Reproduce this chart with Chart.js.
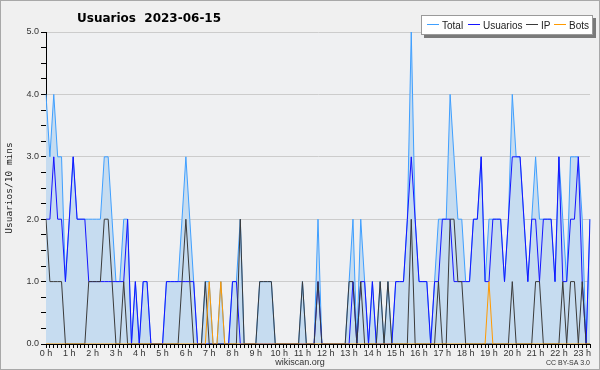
<!DOCTYPE html>
<html><head><meta charset="utf-8">
<script src="https://cdn.jsdelivr.net/npm/chart.js@4/dist/chart.umd.min.js"></script>
<style>html,body{margin:0;padding:0;background:#f0f0f0}</style>
</head><body>
<canvas id="c" width="600" height="370"></canvas>
<script>
// hour tick labels (one every 6 slots of 10 minutes)
const hourLabels = ['0 h','1 h','2 h','3 h','4 h','5 h','6 h','7 h','8 h','9 h','10 h','11 h',
  '12 h','13 h','14 h','15 h','16 h','17 h','18 h','19 h','20 h','21 h','22 h','23 h'];
const yTickLabels = ['0.0','1.0','2.0','3.0','4.0','5.0'];
const seriesNames = ['Total','Usuarios','IP','Bots'];

const total = [
 4,3,4,3,3,1,2,3,2,2,
 2,2,2,2,2,3,3,2,1,1,
 2,2,0,1,0,1,1,0,0,0,
 0,1,1,1,1,2,3,2,1,0,
 0,1,1,0,0,1,0,0,1,1,
 2,0,0,0,0,1,1,1,1,0,
 0,0,0,0,0,0,1,0,0,0,
 2,0,0,0,0,0,0,0,1,2,
 0,2,1,0,1,0,1,0,1,0,
 1,1,1,2,5,2,1,1,1,0,
 1,2,2,2,4,3,2,2,1,1,
 2,2,3,1,2,2,2,2,1,2,
 4,3,3,2,1,2,3,2,2,2,
 2,1,3,2,1,3,3,3,2,0,
 2];
const usuarios = [
 2,2,3,2,2,1,2,3,2,2,
 2,1,1,1,1,1,1,1,1,1,
 1,2,0,1,0,1,1,0,0,0,
 0,1,1,1,1,1,1,1,1,0,
 0,0,0,0,0,0,0,0,1,1,
 0,0,0,0,0,0,0,0,0,0,
 0,0,0,0,0,0,0,0,0,0,
 1,0,0,0,0,0,0,0,0,1,
 0,1,1,0,1,0,0,0,0,0,
 1,1,1,2,3,2,1,1,1,0,
 1,1,2,2,2,1,1,1,1,1,
 2,2,3,1,1,2,2,2,1,2,
 3,3,3,2,1,2,2,1,2,2,
 2,1,3,1,1,2,2,3,1,0,
 2];
const ip = [
 2,1,1,1,1,0,0,0,0,0,
 0,1,1,1,1,2,2,1,0,0,
 1,0,0,0,0,0,0,0,0,0,
 0,0,0,0,0,1,2,1,0,0,
 0,1,0,0,0,0,0,0,0,0,
 2,0,0,0,0,1,1,1,1,0,
 0,0,0,0,0,0,1,0,0,0,
 1,0,0,0,0,0,0,0,1,1,
 0,1,0,0,0,0,1,0,1,0,
 0,0,0,0,2,0,0,0,0,0,
 0,1,0,0,2,2,1,1,0,0,
 0,0,0,0,0,0,0,0,0,0,
 1,0,0,0,0,0,1,1,0,0,
 0,0,0,1,0,1,1,0,1,0,
 0];
const bots = [
 0,0,0,0,0,0,0,0,0,0,
 0,0,0,0,0,0,0,0,0,0,
 0,0,0,0,0,0,0,0,0,0,
 0,0,0,0,0,0,0,0,0,0,
 0,0,1,0,0,1,0,0,0,0,
 0,0,0,0,0,0,0,0,0,0,
 0,0,0,0,0,0,0,0,0,0,
 0,0,0,0,0,0,0,0,0,0,
 0,0,0,0,0,0,0,0,0,0,
 0,0,0,0,0,0,0,0,0,0,
 0,0,0,0,0,0,0,0,0,0,
 0,0,0,0,1,0,0,0,0,0,
 0,0,0,0,0,0,0,0,0,0,
 0,0,0,0,0,0,0,0,0,0,
 0];

// 10-minute slot category labels
const slots = [];
for (let k = 0; k < total.length; k++) {
  const h = Math.floor(k / 6), m = (k % 6) * 10;
  slots.push(h + ':' + (m < 10 ? '0' : '') + m);
}

const colors = ['#3f9fff','#1414ff','#3a3a3a','#ff9a00'];

const deco = {
  id: 'deco',
  beforeDraw(chart) {
    const {ctx, chartArea: a} = chart;
    ctx.save();
    ctx.fillStyle = '#f0f0f0';
    ctx.fillRect(0, 0, chart.width, chart.height);
    ctx.fillStyle = '#eff0f2';
    ctx.fillRect(a.left, a.top, a.right - a.left, a.bottom - a.top);
    ctx.restore();
  },
  afterDraw(chart) {
    const ctx = chart.ctx;
    ctx.save();
    ctx.strokeStyle = '#a8a8a8';
    ctx.lineWidth = 1;
    ctx.strokeRect(0.5, 0.5, chart.width - 1, chart.height - 1);
    // title
    ctx.fillStyle = '#000';
    ctx.font = 'bold 12px "DejaVu Sans"';
    ctx.textAlign = 'left';
    ctx.textBaseline = 'alphabetic';
    ctx.fillText('Usuarios  2023-06-15', 77, 22);
    // legend box
    ctx.fillStyle = '#7a7a7a';
    ctx.fillRect(424, 18, 172, 20);
    ctx.fillStyle = '#ffffff';
    ctx.fillRect(421, 15, 172, 20);
    ctx.strokeStyle = '#9a9a9a';
    ctx.strokeRect(421.5, 15.5, 171, 19);
    const xs = [427, 468, 526, 554];
    ctx.font = '10px "Liberation Sans"';
    chart.data.datasets.forEach((ds, k) => {
      ctx.strokeStyle = ds.borderColor;
      ctx.lineWidth = 1;
      ctx.beginPath();
      ctx.moveTo(xs[k], 24.5);
      ctx.lineTo(xs[k] + 12, 24.5);
      ctx.stroke();
      ctx.fillStyle = '#222';
      ctx.fillText(ds.label, xs[k] + 15, 28.5);
    });
    // footer
    ctx.fillStyle = '#333';
    ctx.font = '9px "Liberation Sans"';
    ctx.textAlign = 'center';
    ctx.fillText('wikiscan.org', 300, 365);
    ctx.font = '7px "Liberation Sans"';
    ctx.textAlign = 'right';
    ctx.fillText('CC BY-SA 3.0', 590, 365);
    ctx.restore();
  }
};

const mk = (k, data, extra) => Object.assign({
  label: seriesNames[k], data: data, borderColor: colors[k], borderWidth: 1,
  pointRadius: 0, tension: 0, fill: false, order: 4 - k
}, extra || {});

new Chart(document.getElementById('c'), {
  type: 'line',
  data: {
    labels: slots,
    datasets: [
      mk(0, total, {fill: 'origin', backgroundColor: '#c6dcf0', order: 4}),
      mk(1, usuarios),
      mk(2, ip),
      mk(3, bots)
    ]
  },
  options: {
    responsive: false,
    devicePixelRatio: 1,
    animation: false,
    layout: {padding: {top: 32, right: 10, left: 0, bottom: 0}},
    plugins: {legend: {display: false}, tooltip: {enabled: false}, title: {display: false}},
    scales: {
      x: {
        type: 'category',
        offset: false,
        afterFit: s => { s.height = 26; },
        border: {display: true, color: '#000', width: 1},
        grid: {drawOnChartArea: false, tickLength: 4, tickColor: '#000'},
        ticks: {
          autoSkip: false, maxRotation: 0, minRotation: 0, padding: 0,
          color: '#333', font: {family: 'Liberation Sans', size: 9},
          callback: (v, i) => (i % 6 === 0 ? hourLabels[i / 6] : '')
        }
      },
      y: {
        min: 0, max: 5,
        afterFit: s => { s.width = 46; },
        border: {display: true, color: '#000', width: 1},
        grid: {
          tickLength: 5,
          tickColor: '#000',
          color: c => (c.tick && Math.abs(c.tick.value % 1) < 1e-6 ? '#cccccc' : 'rgba(0,0,0,0)')
        },
        ticks: {
          stepSize: 0.25, autoSkip: false, padding: 2,
          color: '#333', font: {family: 'Liberation Sans', size: 9},
          callback: v => (Math.abs(v % 1) < 1e-6 ? yTickLabels[Math.round(v)] : '')
        },
        title: {
          display: true, text: 'Usuarios/10 mins', color: '#222',
          font: {family: 'DejaVu Sans Mono', size: 9.5}, padding: {top: 4, bottom: 0}
        }
      }
    }
  },
  plugins: [deco]
});
</script>
</body></html>
